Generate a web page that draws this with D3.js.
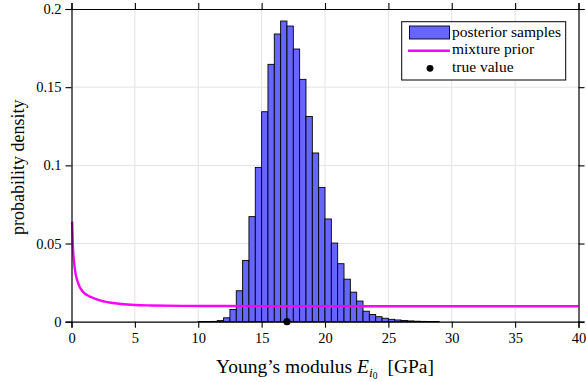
<!DOCTYPE html>
<html>
<head>
<meta charset="utf-8">
<script src="https://cdn.jsdelivr.net/npm/d3@7"></script>
<style>
  html, body { margin: 0; padding: 0; background: #fff; }
  svg text { font-family: "Liberation Serif", "DejaVu Serif", serif; fill: #000; }
</style>
</head>
<body>
<svg id="chart" width="586" height="382"></svg>
<script>
// ---- data ----
const binStart = 10;      // left edge of first bin [GPa]
const binWidth = 0.5;     // bin width [GPa]
const binDensity = [
  0.0001, 0.0001, 0.0002, 0.0007, 0.0025, 0.0078, 0.0198, 0.0392, 0.0672, 0.0987,
  0.1343, 0.1646, 0.1840, 0.1923, 0.1891, 0.1744, 0.1550, 0.1313, 0.1079, 0.0859,
  0.0657, 0.0503, 0.0371, 0.0272, 0.0189, 0.0132, 0.0067, 0.0046, 0.0032, 0.0022,
  0.0015, 0.0011, 0.0008, 0.0005, 0.0003, 0.0002, 0.0001, 0.0001
];
const priorX = [0.05, 0.1, 0.26, 0.53, 0.92, 1.58, 2.63, 3.95, 5, 6.3, 8.7, 12, 20, 30, 40];
const priorY = [0.064, 0.05, 0.034, 0.0245, 0.019, 0.0156, 0.0128, 0.0113, 0.0107, 0.0104, 0.0101, 0.0100, 0.0099, 0.0099, 0.0099];
const trueValue = 17;
const xTicks = [0, 5, 10, 15, 20, 25, 30, 35, 40];
const yTicks = [0, 0.05, 0.1, 0.15, 0.2];
const yTickLabels = ["0", "0.05", "0.1", "0.15", "0.2"];
const legendLabels = ["posterior samples", "mixture prior", "true value"];

// ---- layout ----
const L = 71.5, R = 578.5, T = 9, B = 321.7;
const svg = d3.select("#chart");
const x = d3.scaleLinear().domain([0, 40]).range([L, R]);
const y = d3.scaleLinear().domain([0, 0.2]).range([B, T]);
const blue = "#6666ff", magenta = "#ff00ff";

// grid
const grid = svg.append("g");
grid.selectAll("line.gx").data(xTicks.slice(1, -1)).join("line")
  .attr("x1", d => x(d)).attr("x2", d => x(d)).attr("y1", T).attr("y2", B)
  .attr("stroke", "#e3e3e3").attr("stroke-width", 1);
grid.selectAll("line.gy").data(yTicks.slice(1, -1)).join("line")
  .attr("y1", d => y(d)).attr("y2", d => y(d)).attr("x1", L).attr("x2", R)
  .attr("stroke", "#e3e3e3").attr("stroke-width", 1);

// histogram bars
const bins = binDensity.map((v, i) => ({ x0: binStart + i * binWidth, x1: binStart + (i + 1) * binWidth, v }));
svg.append("g").selectAll("rect").data(bins).join("rect")
  .attr("x", d => x(d.x0)).attr("width", d => x(d.x1) - x(d.x0))
  .attr("y", d => y(d.v)).attr("height", d => y(0) - y(d.v))
  .attr("fill", blue).attr("stroke", "#000").attr("stroke-width", 0.9);

// prior curve
const priorData = priorX.map((d, i) => [d, priorY[i]]);
svg.append("path").datum(priorData)
  .attr("d", d3.line().x(d => x(d[0])).y(d => y(d[1])).curve(d3.curveMonotoneX))
  .attr("fill", "none").attr("stroke", magenta).attr("stroke-width", 2.4);

// axes
const tickLen = 6;
const xAxisB = d3.axisBottom(x).tickValues(xTicks).tickSize(tickLen).tickPadding(5).tickFormat(d3.format("d"));
const xAxisT = d3.axisTop(x).tickValues(xTicks).tickSize(tickLen).tickFormat("");
const yAxisL = d3.axisLeft(y).tickValues(yTicks).tickSize(tickLen).tickPadding(4).tickFormat((d, i) => yTickLabels[i]);
const yAxisR = d3.axisRight(y).tickValues(yTicks).tickSize(tickLen).tickFormat("");

function style(g) {
  g.select(".domain").attr("stroke", "#000").attr("stroke-width", 1.2);
  g.selectAll(".tick line").attr("stroke", "#000").attr("stroke-width", 1.1);
  g.selectAll(".tick text").attr("font-size", 14.5).attr("font-family", "Liberation Serif");
}
svg.append("g").attr("transform", `translate(0,${B})`).call(xAxisB).call(style);
svg.append("g").attr("transform", `translate(0,${T})`).call(xAxisT).call(style);
svg.append("g").attr("transform", `translate(${L},0)`).call(yAxisL).call(style);
svg.append("g").attr("transform", `translate(${R},0)`).call(yAxisR).call(style);

// true value marker
svg.append("circle").attr("cx", x(trueValue)).attr("cy", y(0)).attr("r", 3.6).attr("fill", "#000");

// axis labels
const xl = svg.append("text").attr("x", (L + R) / 2).attr("y", 373)
  .attr("text-anchor", "middle").attr("font-size", 19.5);
xl.append("tspan").text("Young’s modulus ");
xl.append("tspan").attr("font-style", "italic").text("E");
xl.append("tspan").attr("font-style", "italic").attr("font-size", 13.5).attr("dy", 4).text("i");
xl.append("tspan").attr("font-size", 9.5).attr("dy", 2).text("0");
xl.append("tspan").attr("dy", -6).attr("dx", 5).text(" [GPa]");

svg.append("text").attr("transform", `translate(24,${(T + B) / 2 + 2}) rotate(-90)`)
  .attr("text-anchor", "middle").attr("font-size", 18).text("probability density");

// legend
const lg = svg.append("g");
lg.append("rect").attr("x", 401.7).attr("y", 21.7).attr("width", 164).attr("height", 58.3)
  .attr("fill", "#fff").attr("stroke", "#000").attr("stroke-width", 1);
lg.append("rect").attr("x", 409.5).attr("y", 26).attr("width", 40).attr("height", 13)
  .attr("fill", blue).attr("stroke", "#000").attr("stroke-width", 0.9);
lg.append("line").attr("x1", 408).attr("x2", 450).attr("y1", 50.7).attr("y2", 50.7)
  .attr("stroke", magenta).attr("stroke-width", 2.4);
lg.append("circle").attr("cx", 430).attr("cy", 68.3).attr("r", 3.4).attr("fill", "#000");
lg.selectAll("text.lt").data(legendLabels).join("text")
  .attr("x", 452).attr("y", (d, i) => 36.8 + i * 17.5)
  .attr("font-size", 15.5).text(d => d);
</script>
</body>
</html>
